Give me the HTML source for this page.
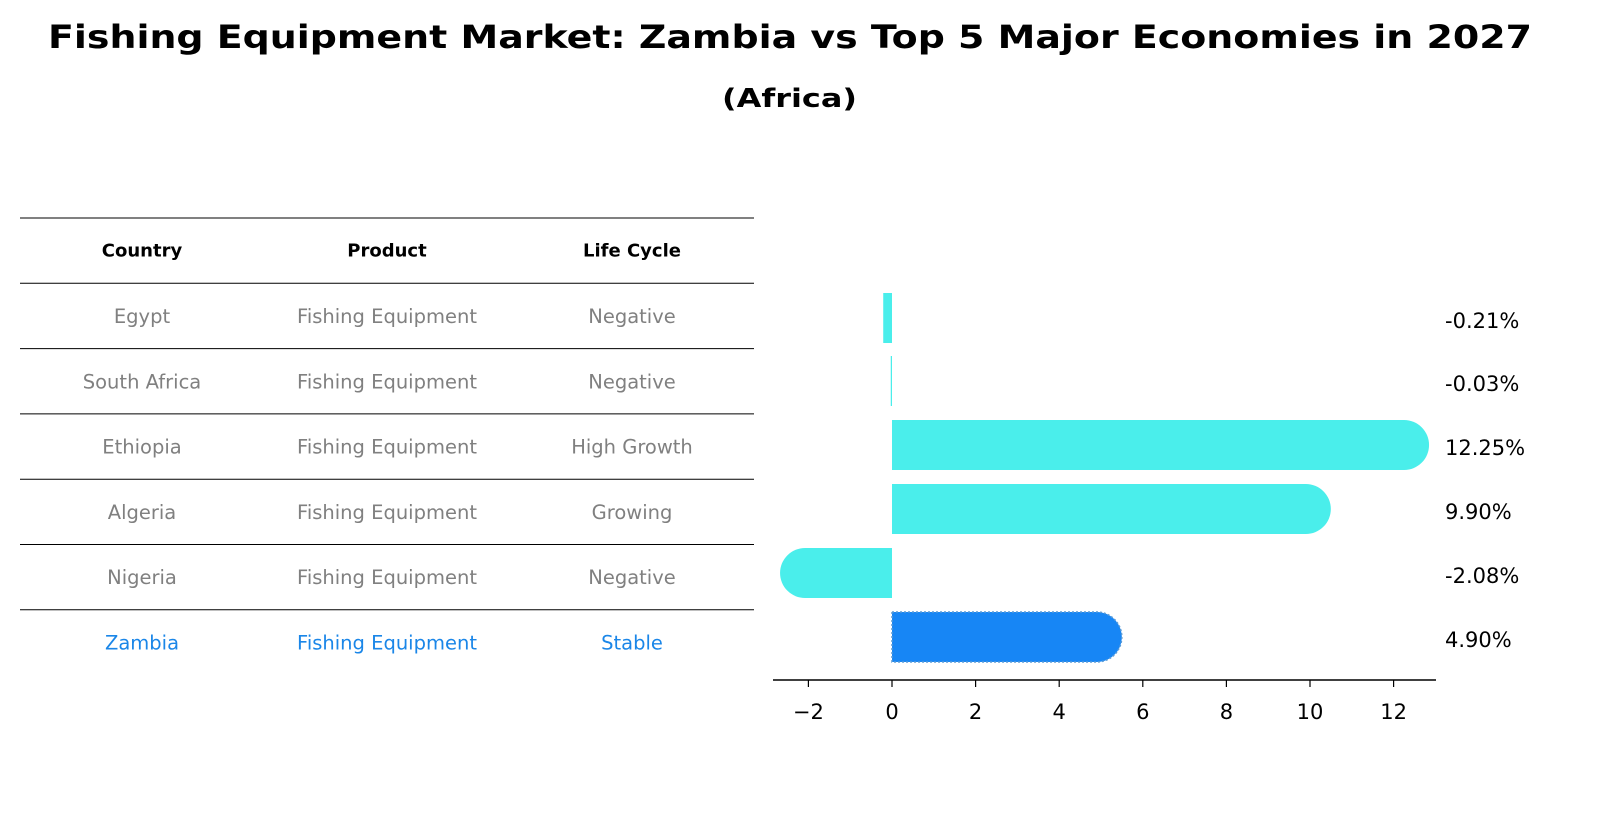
<!DOCTYPE html>
<html><head><meta charset="utf-8"><style>
body{margin:0;background:#fff;font-family:"Liberation Sans","DejaVu Sans",sans-serif;}
</style></head><body>
<svg width="1604" height="823" xmlns="http://www.w3.org/2000/svg" style="font-family:'DejaVu Sans','Liberation Sans',sans-serif">
<text x="48" y="48" font-size="32" font-weight="bold" textLength="1484" lengthAdjust="spacingAndGlyphs">Fishing Equipment Market: Zambia vs Top 5 Major Economies in 2027</text>
<text x="722" y="107" font-size="26" font-weight="bold" textLength="135" lengthAdjust="spacingAndGlyphs">(Africa)</text>
<g id="table"></g>
<g id="bars"></g>
</svg>
<script>
const countries=["Egypt","South Africa","Ethiopia","Algeria","Nigeria","Zambia"];
const products=["Fishing Equipment","Fishing Equipment","Fishing Equipment","Fishing Equipment","Fishing Equipment","Fishing Equipment"];
const lifecycle=["Negative","Negative","High Growth","Growing","Negative","Stable"];
const values=[-0.21,-0.03,12.25,9.90,-2.08,4.90];
const valueLabels=["-0.21%","-0.03%","12.25%","9.90%","-2.08%","4.90%"];
const ticks=[-2,0,2,4,6,8,10,12];
const NS="http://www.w3.org/2000/svg";
function mk(tag,attrs,parent){const e=document.createElementNS(NS,tag);for(const k in attrs)e.setAttribute(k,attrs[k]);parent.appendChild(e);return e;}
const tb=document.getElementById('table');
const rowH=65.3, tableTop=218, cols=[142,387,632];
function line(y){const l=mk('line',{x1:20,x2:754,y1:y,y2:y,stroke:'#000','stroke-width':1},tb);

}
line(tableTop);
["Country","Product","Life Cycle"].forEach((h,i)=>{const t=mk('text',{x:cols[i],y:tableTop+rowH/2+6,'text-anchor':'middle','font-size':18,'font-weight':'bold'},tb);t.textContent=h;

});
countries.forEach((c,r)=>{const y0=tableTop+rowH*(r+1);line(y0);
const col=c==="Zambia"?'#1a86e8':'#808080';
[c,products[r],lifecycle[r]].forEach((v,i)=>{const t=mk('text',{x:cols[i],y:y0+rowH/2+7,'text-anchor':'middle','font-size':19.5,fill:col},tb);t.textContent=v;

});});
const bg=document.getElementById('bars');
const x0=892, k=41.8; const X=v=>x0+v*k;
const rowY=[318,381,445,509,573,637], bh=50, rad=25;
values.forEach((v,i)=>{const cy=rowY[i], y=cy-bh/2, xs=X(0), xe=X(v);
const fill=countries[i]==="Zambia"?'#1786f5':'#4aeeeb';
let d;
if(Math.abs(xe-xs)>rad){ if(v>0) d=`M${xs},${y}H${xe}A${rad},${rad} 0 0 1 ${xe},${y+bh}H${xs}Z`;
 else d=`M${xs},${y}H${xe}A${rad},${rad} 0 0 0 ${xe},${y+bh}H${xs}Z`;}
else d=`M${Math.min(xs,xe)},${y}H${Math.max(xs,xe)+(Math.abs(xe-xs)<1?1:0)}V${y+bh}H${Math.min(xs,xe)}Z`;
const p=mk('path',{d:d,fill:fill},bg);
if(countries[i]==="Zambia"){p.setAttribute('stroke','#5b9bd5');p.setAttribute('stroke-dasharray','2,2');p.setAttribute('stroke-width','1.5');}


const t=mk('text',{x:1445,y:cy+10,'font-size':21},bg);t.textContent=valueLabels[i];

});
const ax=mk('line',{x1:773,x2:1436,y1:680,y2:680,stroke:'#000','stroke-width':1.5},bg);


ticks.forEach(tv=>{const tk=mk('line',{x1:X(tv),x2:X(tv),y1:680,y2:687,stroke:'#000','stroke-width':1.2},bg);


const t=mk('text',{x:X(tv),y:719,'text-anchor':'middle','font-size':21},bg);t.textContent=tv<0?'\u2212'+Math.abs(tv):String(tv);

});
</script>
</body></html>
